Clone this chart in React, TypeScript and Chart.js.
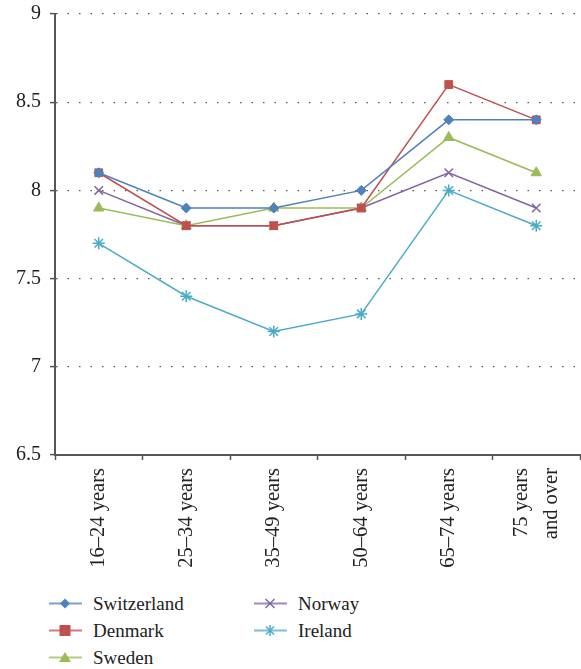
import React, { useEffect, useRef } from "react";
import { Chart, registerables } from "chart.js";

Chart.register(...registerables);

const categories: (string | string[])[] = [
  "16–24 years",
  "25–34 years",
  "35–49 years",
  "50–64 years",
  "65–74 years",
  ["75 years", "and over"],
];

const switzerland = [8.1, 7.9, 7.9, 8.0, 8.4, 8.4];
const denmark = [8.1, 7.8, 7.8, 7.9, 8.6, 8.4];
const sweden = [7.9, 7.8, 7.9, 7.9, 8.3, 8.1];
const norway = [8.0, 7.8, 7.8, 7.9, 8.1, 7.9];
const ireland = [7.7, 7.4, 7.2, 7.3, 8.0, 7.8];

const yTicks = [6.5, 7, 7.5, 8, 8.5, 9];

const seriesNames = ["Switzerland", "Denmark", "Sweden", "Norway", "Ireland"];
const seriesData = [switzerland, denmark, sweden, norway, ireland];
const colors = ["#4F81BD", "#C0504D", "#9BBB59", "#8064A2", "#4BACC6"];
const styles = ["rectRot", "rect", "triangle", "crossRot", "star"];
const radii = [5, 5.5, 6, 6, 6];

const FONT = '"Liberation Serif", serif';
const X_FONT_SIZE = 20.5;
const X_LINE_HEIGHT = 1.45;

function LegendIcon({ idx }: { idx: number }) {
  const c = colors[idx];
  const s = styles[idx];
  let marker: React.ReactNode = null;
  if (s === "rectRot") marker = <polygon points="16,1.5 21,6.5 16,11.5 11,6.5" fill={c} />;
  if (s === "rect") marker = <rect x="10.5" y="1" width="11" height="11" fill={c} />;
  if (s === "triangle") marker = <polygon points="16,1 22,11 10,11" fill={c} />;
  if (s === "crossRot")
    marker = (
      <g stroke={c} strokeWidth="1.5">
        <line x1="11.5" y1="2" x2="20.5" y2="11" />
        <line x1="20.5" y1="2" x2="11.5" y2="11" />
      </g>
    );
  if (s === "star")
    marker = (
      <g stroke={c} strokeWidth="1.5">
        <line x1="12" y1="2.5" x2="20" y2="10.5" />
        <line x1="20" y1="2.5" x2="12" y2="10.5" />
        <line x1="16" y1="1" x2="16" y2="12" />
      </g>
    );
  return (
    <svg width="33" height="13" style={{ display: "block" }}>
      <line x1="0" y1="6.5" x2="33" y2="6.5" stroke={c} strokeWidth="2" opacity={0.75} />
      {marker}
    </svg>
  );
}

// Centre multi-line rotated x labels on their tick
const centerMultiLinePlugin = {
  id: "centerMultiLine",
  beforeDraw(chart: any) {
    const sx = chart.scales.x;
    if (!sx) return;
    const items = sx.getLabelItems();
    const lh = X_FONT_SIZE * X_LINE_HEIGHT;
    items.forEach((it: any) => {
      if (Array.isArray(it.label) && it.label.length > 1 && !it.__centered) {
        const t = it.options.translation;
        it.options.translation = [t[0] - (lh * (it.label.length - 1)) / 2, t[1]];
        it.__centered = true;
      }
    });
  },
};

export default function App() {
  const ref = useRef<HTMLCanvasElement | null>(null);

  useEffect(() => {
    document.body.style.margin = "0";
    const canvas = ref.current;
    if (!canvas) return;
    const chart = new Chart(canvas, {
      type: "line",
      data: {
        labels: categories,
        datasets: seriesNames.map((name, i) => ({
          label: name,
          data: seriesData[i],
          borderColor: colors[i],
          backgroundColor: colors[i],
          borderWidth: 1.5,
          pointStyle: styles[i] as any,
          pointRadius: radii[i],
          pointBorderWidth: styles[i] === "crossRot" || styles[i] === "star" ? 1.5 : 1,
          pointBackgroundColor: colors[i],
          pointBorderColor: colors[i],
          tension: 0,
          fill: false,
          clip: false as any,
        })),
      },
      plugins: [centerMultiLinePlugin],
      options: {
        responsive: false,
        animation: false,
        layout: { autoPadding: false, padding: { top: 14, right: 1, left: 0, bottom: 0 } },
        plugins: {
          legend: { display: false },
          tooltip: { enabled: false },
        },
        scales: {
          x: {
            offset: true,
            grid: {
              offset: true,
              drawOnChartArea: false,
              drawTicks: true,
              tickLength: 5,
              tickColor: "#555",
              tickWidth: 1.5,
            },
            border: { display: true, color: "#555", width: 2 },
            ticks: {
              color: "#222",
              font: { family: FONT, size: X_FONT_SIZE, lineHeight: X_LINE_HEIGHT },
              maxRotation: 90,
              minRotation: 90,
              padding: 8,
              autoSkip: false,
            },
            afterFit: (s: any) => {
              s.height = 135;
              s.paddingLeft = 0;
              s.paddingRight = 0;
            },
          },
          y: {
            min: 6.5,
            max: 9,
            afterBuildTicks: (s: any) => {
              s.ticks = yTicks.map((v) => ({ value: v }));
            },
            grid: {
              color: "#555",
              lineWidth: 1.2,
              drawTicks: true,
              tickLength: 5,
              tickColor: "#555",
              tickWidth: 1.5,
              tickBorderDash: [],
            },
            border: { display: true, color: "#555", width: 2, dash: [1.5, 10] },
            ticks: {
              color: "#222",
              font: { family: FONT, size: 20 },
              padding: 9,
              callback: (v: any) => String(v),
            },
            afterFit: (s: any) => {
              s.width = 55;
              s.paddingTop = 0;
              s.paddingBottom = 0;
            },
          },
        },
      },
    });
    return () => chart.destroy();
  }, []);

  const legendCol = (indices: number[], left: number) => (
    <div style={{ position: "absolute", left, top: 590 }}>
      {indices.map((i) => (
        <div key={i} style={{ display: "flex", alignItems: "center", height: 27 }}>
          <LegendIcon idx={i} />
          <span
            style={{
              marginLeft: 11,
              fontFamily: FONT,
              fontSize: 19,
              color: "#222",
              lineHeight: "27px",
            }}
          >
            {seriesNames[i]}
          </span>
        </div>
      ))}
    </div>
  );

  return (
    <div style={{ position: "relative", width: 581, height: 669, background: "#fff" }}>
      <canvas ref={ref} width={581} height={590} style={{ position: "absolute", left: 0, top: 0 }} />
      {legendCol([0, 1, 2], 49)}
      {legendCol([3, 4], 254)}
    </div>
  );
}
